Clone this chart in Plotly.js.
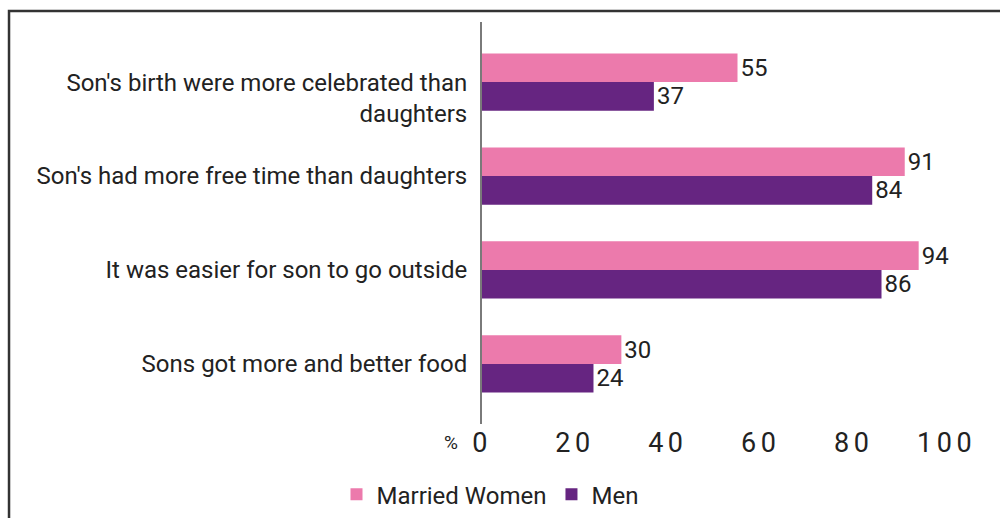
<!DOCTYPE html>
<html>
<head>
<meta charset="utf-8">
<script src="https://cdn.plot.ly/plotly-3.0.1.min.js"></script>
<style>
html,body{margin:0;padding:0;background:#fff;}
#chart{width:1000px;height:518px;}
#chart .xtick text{letter-spacing:4.5px;}
</style>
</head>
<body>
<div id="chart"></div>
<script>
var categories = [
  "<br>Son's birth were more celebrated than<br>daughters",
  "Son's had more free time than daughters",
  "It was easier for son to go outside",
  "Sons got more and better food"
];
var marriedWomen = [55, 91, 94, 30];
var men = [37, 84, 86, 24];
var tickValues = [0, 20, 40, 60, 80, 100];

var font = {family: 'Roboto, sans-serif', size: 24, color: '#222'};

var traces = [
  {type: 'bar', orientation: 'h', name: 'Married Women', y: categories, x: marriedWomen,
   marker: {color: '#EC7AAC'}, text: marriedWomen.map(String), textposition: 'outside',
   textfont: font, cliponaxis: false, hoverinfo: 'none'},
  {type: 'bar', orientation: 'h', name: 'Men', y: categories, x: men,
   marker: {color: '#662581'}, text: men.map(String), textposition: 'outside',
   textfont: font, cliponaxis: false, hoverinfo: 'none'}
];

var layout = {
  width: 1000, height: 518,
  margin: {l: 482, r: 7, t: 22, b: 94},
  paper_bgcolor: '#fff', plot_bgcolor: '#fff',
  font: font,
  barmode: 'group',
  bargap: 0.39,
  bargroupgap: 0,
  showlegend: true,
  legend: {orientation: 'h', xref: 'container', yref: 'container', x: 0.49, xanchor: 'center',
           y: 0.045, yanchor: 'middle', font: font, traceorder: 'normal', itemwidth: 30},
  xaxis: {range: [0, 110], tickvals: tickValues, showgrid: false, zeroline: false,
          showline: false, ticks: '',
          tickfont: {family: '"Liberation Sans Narrow", "Roboto", sans-serif', size: 27, color: '#222'}},
  yaxis: {range: [3.64, -0.64], showgrid: false, zeroline: false, showline: true,
          linecolor: '#7a7a7a', linewidth: 2, ticks: '', ticklabelstandoff: 8,
          tickfont: font},
  annotations: [
    {text: '%', xref: 'paper', yref: 'paper', x: 0, y: 0, xanchor: 'right', yanchor: 'top',
     xshift: -22, yshift: -5, showarrow: false, font: {family: 'Roboto, sans-serif', size: 19, color: '#222'}}
  ],
  shapes: [
    {type: 'rect', xref: 'paper', yref: 'paper', x0: -0.9256, x1: 1.2, y0: -0.4, y1: 1.0274,
     line: {color: '#333', width: 2.5}, fillcolor: 'rgba(0,0,0,0)', layer: 'below'}
  ]
};

Plotly.newPlot('chart', traces, layout, {displayModeBar: false, staticPlot: true});
</script>
</body>
</html>
